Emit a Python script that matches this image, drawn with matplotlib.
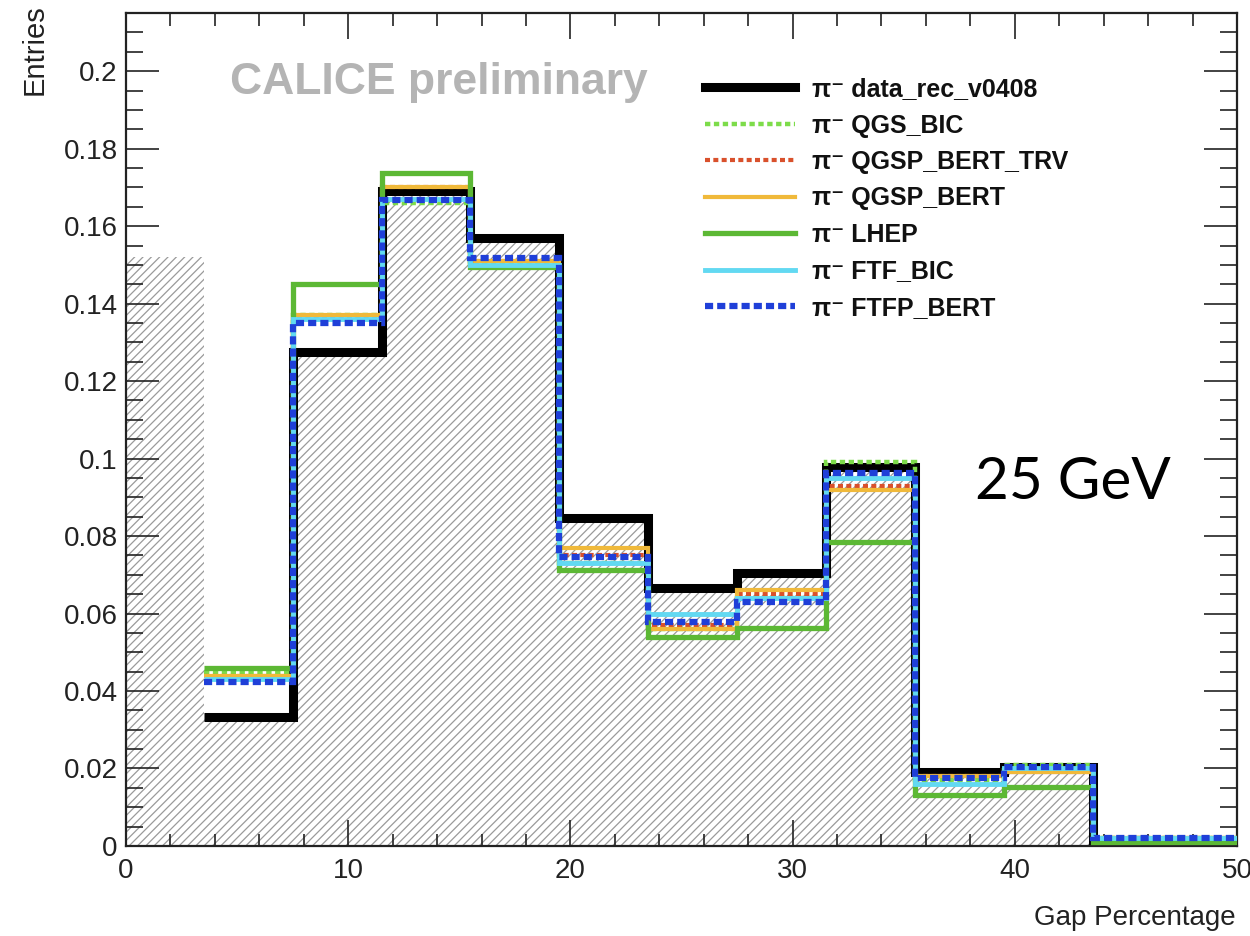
import numpy as np
import matplotlib
matplotlib.use('Agg')
import matplotlib.pyplot as plt
from matplotlib.lines import Line2D
from matplotlib.font_manager import FontProperties

plt.rcParams['font.family'] = ['Liberation Sans', 'DejaVu Sans']
plt.rcParams['hatch.linewidth'] = 0.9

# gap percentage histograms, 4% bins starting at 3.5
edges = np.arange(3.5, 52.0, 4.0)
data_rec = [0.0333, 0.1275, 0.169, 0.157, 0.0846, 0.0666, 0.0705, 0.0978, 0.0191, 0.0205, 0.0015, 0.0015]
qgs_bic = [0.045, 0.137, 0.166, 0.150, 0.073, 0.056, 0.064, 0.099, 0.017, 0.021, 0.002, 0.002]
qgsp_bert_trv = [0.044, 0.136, 0.170, 0.151, 0.075, 0.057, 0.065, 0.093, 0.018, 0.019, 0.002, 0.002]
qgsp_bert = [0.044, 0.137, 0.170, 0.151, 0.077, 0.056, 0.066, 0.092, 0.018, 0.019, 0.002, 0.002]
lhep = [0.046, 0.145, 0.1737, 0.1494, 0.0712, 0.054, 0.0563, 0.0785, 0.0132, 0.0153, 0.001, 0.001]
ftf_bic = [0.043, 0.136, 0.167, 0.150, 0.073, 0.060, 0.064, 0.095, 0.016, 0.020, 0.002, 0.002]
ftfp_bert = [0.0423, 0.135, 0.1667, 0.1517, 0.0746, 0.0578, 0.063, 0.0962, 0.0175, 0.0204, 0.002, 0.002]
first_bin_fill = 0.152  # hatched bin below 3.5

pim = '\u03c0\u207b'

fig = plt.figure(figsize=(12.5, 9.36), dpi=100)
ax = fig.add_axes([0.1008, 0.0962, 0.8888, 0.8898])

# hatched data fill
fill_edges = np.concatenate([[-0.5], edges])
fill_vals = [first_bin_fill] + data_rec
ax.stairs(fill_vals, fill_edges, fill=True, facecolor='none', edgecolor='#9a9a9a',
          hatch='////', linewidth=0, zorder=1)

ax.stairs(data_rec, edges, baseline=None, color='black', lw=6.5, zorder=2)
ax.stairs(qgs_bic, edges, baseline=None, color='#7ddc4a', lw=3.2, ls=(0, (1.2, 0.8)), zorder=3)
ax.stairs(qgsp_bert_trv, edges, baseline=None, color='#d9512c', lw=3.0, ls=(0, (1.2, 0.8)), zorder=3)
ax.stairs(qgsp_bert, edges, baseline=None, color='#f0b93a', lw=3.0, zorder=3)
ax.stairs(lhep, edges, baseline=None, color='#5cb834', lw=3.8, zorder=4)
ax.stairs(ftf_bic, edges, baseline=None, color='#62d9f2', lw=3.5, zorder=4)
ax.stairs(ftfp_bert, edges, baseline=None, color='#1f3fd8', lw=4.5, ls=(0, (1.3, 0.65)), zorder=5)

ax.set_xlim(0, 50)
ax.set_ylim(0, 0.215)
ax.set_xticks(np.arange(0, 51, 10))
ax.set_xticks(np.arange(0, 51, 2), minor=True)
ax.set_yticks(np.arange(0, 0.201, 0.02))
ax.set_yticks(np.arange(0, 0.2151, 0.005), minor=True)
ax.set_yticklabels([f'{v:g}' for v in np.round(np.arange(0, 0.201, 0.02), 2)])

ax.tick_params(axis='both', which='both', direction='in', top=True, right=True,
               labelsize=20, width=1.2, colors='#222222')
ax.tick_params(axis='y', which='major', length=24, pad=6)
ax.tick_params(axis='y', which='minor', length=12)
ax.tick_params(axis='x', which='major', length=19, pad=9)
ax.tick_params(axis='x', which='minor', length=9)
for s in ax.spines.values():
    s.set_linewidth(1.6)
    s.set_color('#222222')

fig.text(35 / 1250, 1 - 4 / 936, 'Entries', rotation=90, ha='center', va='top',
         fontsize=21, color='#222222')
fig.text(1236 / 1250, 1 - 918 / 936, 'Gap Percentage', ha='right', va='center',
         fontsize=20, color='#222222')

ax.text(4.7, 0.197, 'CALICE preliminary', ha='left', va='center', fontsize=32,
        fontweight='bold', color='#b4b4b4')
ax.text(38.2, 0.0937, '25 GeV', ha='left', va='center', fontsize=42,
        family='Lato', color='black')

handles = [
    Line2D([], [], color='black', lw=6.5),
    Line2D([], [], color='#7ddc4a', lw=3.2, ls=(0, (1.2, 0.8))),
    Line2D([], [], color='#d9512c', lw=3.0, ls=(0, (1.2, 0.8))),
    Line2D([], [], color='#f0b93a', lw=3.0),
    Line2D([], [], color='#5cb834', lw=3.8),
    Line2D([], [], color='#62d9f2', lw=3.5),
    Line2D([], [], color='#1f3fd8', lw=4.5, ls=(0, (1.3, 0.65))),
]
labels = [f'{pim} data_rec_v0408', f'{pim} QGS_BIC', f'{pim} QGSP_BERT_TRV',
          f'{pim} QGSP_BERT', f'{pim} LHEP', f'{pim} FTF_BIC', f'{pim} FTFP_BERT']
leg = fig.legend(handles, labels, loc='upper left', bbox_to_anchor=(705 / 1250, 1 - 77 / 936),
                 frameon=False, handlelength=3.6, handletextpad=0.7, labelspacing=0.5,
                 borderaxespad=0, borderpad=0,
                 prop=FontProperties(family=['Liberation Sans', 'DejaVu Sans'], weight='bold', size=18))
for t in leg.get_texts():
    t.set_color('#111111')

fig.savefig('out.png', dpi=100)
